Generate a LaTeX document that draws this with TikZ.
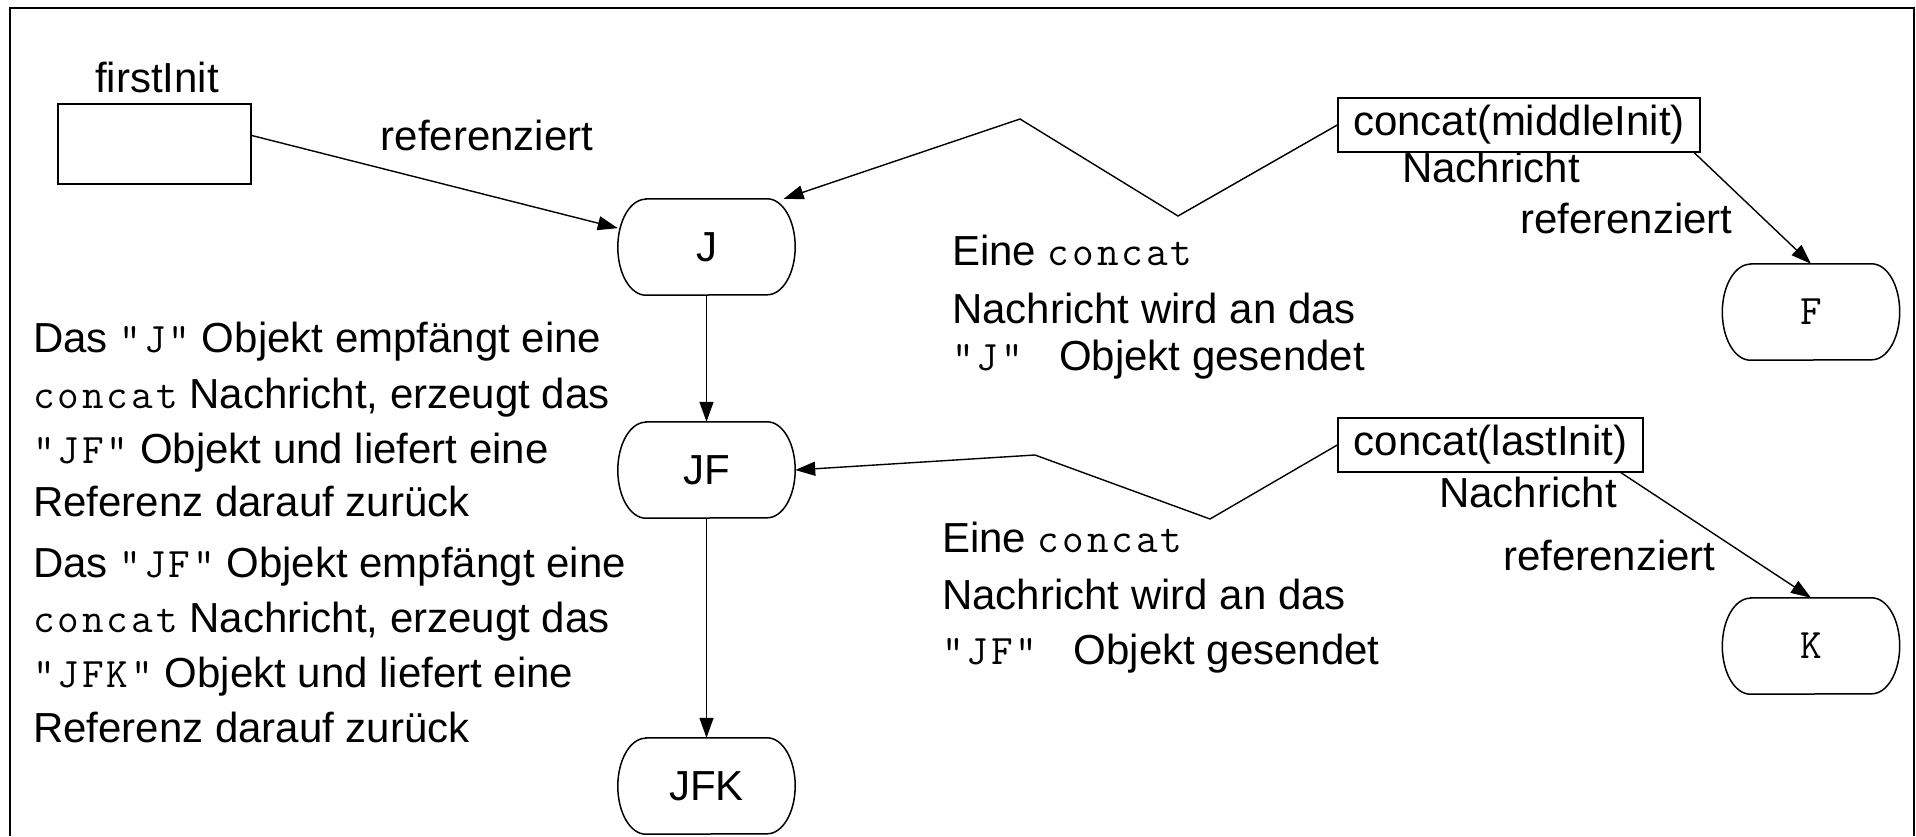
\documentclass[tikz,border=0pt]{standalone}
\usepackage{fontspec}
\setmainfont{Liberation Sans}
\setmonofont{Latin Modern Mono}[LetterSpace=7]
\usetikzlibrary{arrows.meta}
\newcommand\bigsans{\fontsize{42pt}{50pt}\selectfont}
\newcommand\mcode[1]{{\fontsize{42pt}{50pt}\selectfont\ttfamily #1}}
\tikzset{
  txt/.style={font=\bigsans, inner sep=0pt},
  boxnode/.style={draw, line width=1.5pt, font=\bigsans, inner sep=0pt},
  objnode/.style={font=\bigsans, inner sep=0pt, minimum width=177pt, minimum height=96pt},
  objline/.style={line width=1.5pt},
  arr/.style={line width=1.4pt, -{Triangle[length=20pt,width=14pt]}},
}
\begin{document}
\begin{tikzpicture}[x=1pt,y=-1pt]
\useasboundingbox (0,0) rectangle (1916,836);
\draw[line width=2.5pt] (10,836) -- (10,8) -- (1914,8) -- (1914,836);

% boxes
\node[boxnode, minimum width=193pt, minimum height=80pt] (fi) at (154.5,144) {};
\node[txt, anchor=base] (fil) at (157,92) {firstInit};
\node[txt, anchor=base] (ref1) at (487,150) {referenziert};

\node[boxnode, minimum width=362pt, minimum height=54pt] (mid) at (1519,125) {concat(middleInit)};
\node[boxnode, minimum width=305pt, minimum height=54pt] (last) at (1490.5,445) {concat(lastInit)};

\node[txt, anchor=base] (nach1) at (1491,182) {Nachricht};
\node[txt, anchor=base west] (ref2) at (1520,233) {referenziert};
\node[txt, anchor=base] (nach2) at (1528,507) {Nachricht};
\node[txt, anchor=base west] (ref3) at (1503,570) {referenziert};

% objects
\node[objnode] (J) at (706.5,247) {J};
\node[objnode] (JF) at (706.5,470) {JF};
\node[objnode] (JFK) at (706.5,786) {JFK};
\node[objnode] (F) at (1811,312) {\mcode{F}};
\node[objnode] (K) at (1811,646) {\mcode{K}};
\foreach \n in {J,JF,JFK,F,K}{
  \draw[objline] ([xshift=28pt]\n.north west) -- ([xshift=-28pt]\n.north east)
    arc[start angle=90,end angle=-90,x radius=28pt,y radius=48pt]
    -- ([xshift=28pt]\n.south west)
    arc[start angle=270,end angle=90,x radius=28pt,y radius=48pt] -- cycle;
}

% connectors
\draw[arr] (fi.5) -- (J.168.5);
\coordinate (m1) at (1178,216);
\coordinate (m2) at (1020,119);
\draw[arr] (mid.west) -- (m1) -- (m2) -- (J.32);
\draw[arr] (mid.-9.9) -- (F.north);
\coordinate (l1) at (1210,519);
\coordinate (l2) at (1035,455);
\draw[arr] (last.west) -- (l1) -- (l2) -- (JF.east);
\draw[arr] (last.-12.7) -- (K.north);
\draw[arr] (J.south) -- (JF.north);
\draw[arr] (JF.south) -- (JFK.north);

% left texts
\node[txt, anchor=base west] (a1) at (33,352) {Das \mcode{"J"} Objekt empfängt eine};
\node[txt, anchor=base west] (a2) at (33,408) {\mcode{concat} Nachricht, erzeugt das};
\node[txt, anchor=base west] (a3) at (33,463) {\mcode{"JF"} Objekt und liefert eine};
\node[txt, anchor=base west] (a4) at (33,516) {Referenz darauf zurück};
\node[txt, anchor=base west] (b1) at (33,577) {Das \mcode{"JF"} Objekt empfängt eine};
\node[txt, anchor=base west] (b2) at (33,632) {\mcode{concat} Nachricht, erzeugt das};
\node[txt, anchor=base west] (b3) at (33,687) {\mcode{"JFK"} Objekt und liefert eine};
\node[txt, anchor=base west] (b4) at (33,742) {Referenz darauf zurück};

% right texts
\node[txt, anchor=base west] (c1) at (952,265) {Eine \mcode{concat}};
\node[txt, anchor=base west] (c2) at (952,323) {Nachricht wird an das};
\node[txt, anchor=base west] (c3) at (952,370) {\mcode{"J" } Objekt gesendet};
\node[txt, anchor=base west] (d1) at (942,552) {Eine \mcode{concat}};
\node[txt, anchor=base west] (d2) at (942,609) {Nachricht wird an das};
\node[txt, anchor=base west] (d3) at (942,664) {\mcode{"JF" } Objekt gesendet};
\end{tikzpicture}
\end{document}
